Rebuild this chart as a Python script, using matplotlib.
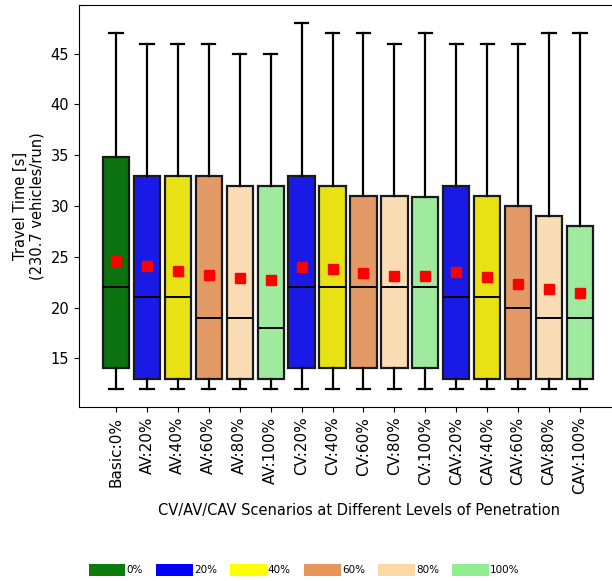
import matplotlib
matplotlib.use("Agg")
import matplotlib.pyplot as plt
from matplotlib.patches import Patch

labels = ["Basic:0%", "AV:20%", "AV:40%", "AV:60%", "AV:80%", "AV:100%",
          "CV:20%", "CV:40%", "CV:60%", "CV:80%", "CV:100%",
          "CAV:20%", "CAV:40%", "CAV:60%", "CAV:80%", "CAV:100%"]
whislo = [12, 12, 12, 12, 12, 12, 12, 12, 12, 12, 12, 12, 12, 12, 12, 12]
q1 = [14, 13, 13, 13, 13, 13, 14, 14, 14, 14, 14, 13, 13, 13, 13, 13]
med = [22, 21, 21, 19, 19, 18, 22, 22, 22, 22, 22, 21, 21, 20, 19, 19]
q3 = [34.8, 33, 33, 33, 32, 32, 33, 32, 31, 31, 30.9, 32, 31, 30, 29, 28]
whishi = [47, 46, 46, 46, 45, 45, 48, 47, 47, 46, 47, 46, 46, 46, 47, 47]
means = [24.6, 24.05, 23.6, 23.2, 22.95, 22.7, 23.95, 23.8, 23.4, 23.15, 23.1,
         23.5, 23.0, 22.3, 21.8, 21.4]
levels = ["0%", "20%", "40%", "60%", "80%", "100%"]
box_colors = ["#0b720f", "#1a1ae6", "#e8e214", "#e49a66", "#f9dcb4", "#a0eaa0"]
legend_colors = ["#0c7a0c", "#0000ff", "#ffff00", "#e8965a", "#fcd9a0", "#90ee90"]
box_level = [0, 1, 2, 3, 4, 5, 1, 2, 3, 4, 5, 1, 2, 3, 4, 5]

fig = plt.figure(figsize=(6.12, 5.81), dpi=100)
ax = fig.add_axes([79/612, 1-407/581, (640-79)/612, (407-5)/581])

stats = []
for i in range(len(labels)):
    stats.append(dict(label=labels[i], whislo=whislo[i], q1=q1[i], med=med[i],
                      q3=q3[i], whishi=whishi[i], mean=means[i], fliers=[]))

pos = list(range(len(labels)))
bp = ax.bxp(stats, positions=pos, widths=0.85, patch_artist=True,
            showmeans=True, showfliers=False,
            boxprops=dict(edgecolor="black", linewidth=1.6),
            whiskerprops=dict(color="black", linewidth=1.6),
            capprops=dict(color="black", linewidth=1.6),
            medianprops=dict(color="black", linewidth=1.4),
            meanprops=dict(marker="s", markerfacecolor="red", markeredgecolor="red",
                           markersize=6.5))
for patch, lv in zip(bp["boxes"], box_level):
    patch.set_facecolor(box_colors[lv])
    patch.set_edgecolor("#1a1a1a")

ax.set_xlim(-37/30.93, (640-116)/30.93)
ax.set_ylim(10.2, 49.8)
ax.set_yticks([15, 20, 25, 30, 35, 40, 45])
ax.set_xticks(pos)
ax.set_xticklabels(labels, rotation=90, fontsize=11)
ax.tick_params(axis="y", labelsize=10.5)
ax.set_ylabel("Travel Time [s]\n(230.7 vehicles/run)", fontsize=10.5)
ax.set_xlabel("CV/AV/CAV Scenarios at Different Levels of Penetration", fontsize=10.5,
              labelpad=6)

handles = [Patch(facecolor=c, edgecolor="none") for c in legend_colors]
fig.legend(handles, levels, loc="center", bbox_to_anchor=(0.497, 1-570/581),
           ncol=6, fontsize=7.5, frameon=False, handlelength=3.5, handleheight=1.4,
           handletextpad=0.1, columnspacing=1.3)

fig.savefig("out.png", dpi=100)
